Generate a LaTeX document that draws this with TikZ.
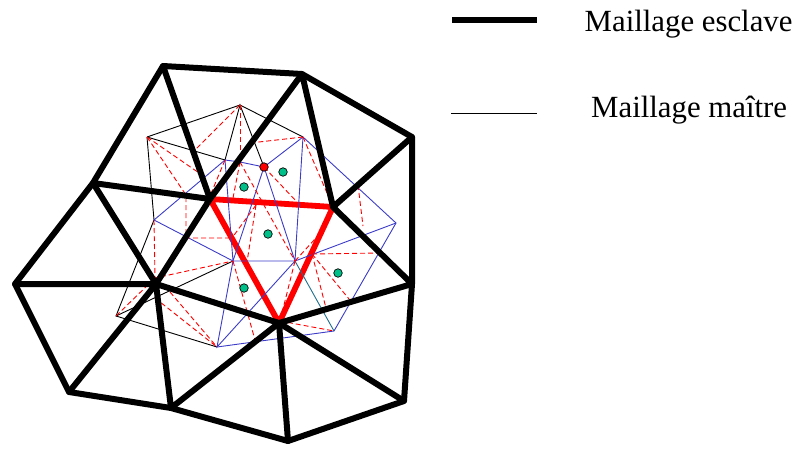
\documentclass[tikz,border=0pt]{standalone}
\usepackage{fontspec}
\setmainfont{Liberation Serif}
\definecolor{vertpt}{HTML}{00C08A}
\definecolor{bleumesh}{HTML}{3C3CC8}
\definecolor{tealmesh}{HTML}{1F6F8F}
\tikzset{
  x=1pt,y=-1pt,
  esclave/.style={line width=6pt,black,line cap=round,line join=round},
  zone/.style={line width=5.8pt,red,line join=miter},
  maitre/.style={line width=0.9pt,black},
  bleu/.style={line width=0.9pt,bleumesh},
  sarc/.style={line width=0.9pt,red,dash pattern=on 5pt off 3pt},
  pt/.style={circle,draw=black,line width=0.7pt,inner sep=0pt,minimum size=8.5pt},
  legende/.style={font=\fontsize{30.8}{32}\selectfont,anchor=base west,inner sep=0pt},
}
\begin{document}
\begin{tikzpicture}
\useasboundingbox (0,0) rectangle (797,450);
% Maillage esclave
\foreach \n/\x/\y in {A/163/66,B/302/74,C/412/137,D/333/207,E/210/199,F/93/183,G/15/284,H/156/284,I/69/392,J/171/408,K/279/323,L/412/284,M/404/401,N/288/441}
  {\coordinate (\n) at (\x,\y);}
% Maillage maitre
\foreach \n/\x/\y in {a/240/105,b/147/137,c/303/137,d/225/160,e/264/167,f/240/162,g/154/220,h/233/261,i/217/347,j/295/261,k/334/331,l/396/223,m/116/316}
  {\coordinate (\n) at (\x,\y);}
% Points d'arrivee des pointilles
\foreach \n/\x/\y in {p1/193/152,p2/202/175,p3/186/195,p4/186/238,p5/232/238,p6/155/278,p7/210/196,p8/233/198,p9/250/143,p10/297/202,p11/358/185,p12/363/226,p13/312/254,p14/380/253,p15/326/308,p16/349/299,p17/325/228,p18/256/205,p19/247/262,p20/255/340,p21/155/298,p22/170/292,p23/140/257,p24/280/321}
  {\coordinate (\n) at (\x,\y);}

\draw[zone] (E) -- (D) -- (K) -- cycle;

\draw[maitre] (b) -- (a) -- (c);
\draw[maitre] (b) -- (d) -- (a) -- (e);
\draw[maitre] (b) -- (g) -- (m) -- (i);
\draw[maitre] (m) -- (h);

\draw[bleu] (g) -- (d) -- (f) -- (e) -- (c) -- (l) -- (k) -- (i);
\draw[bleu] (d) -- (h) -- (e) -- (j) -- (c);
\draw[bleu] (g) -- (h) -- (j) -- (l);
\draw[bleu] (h) -- (i) -- (j);
\draw[line width=0.9pt,tealmesh] (j) -- (k);

\draw[sarc] (a) -- (f);
\draw[sarc] (a) -- (p1);
\draw[sarc] (b) -- (p2);
\draw[sarc] (b) -- (p3) -- (p4) -- (p5);
\draw[sarc] (g) -- (p6) -- (h);
\draw[sarc] (p23) -- (p6);
\draw[sarc] (m) -- (p6);
\draw[sarc] (p21) -- (i);
\draw[sarc] (p22) -- (i);
\draw[sarc] (d) -- (p7);
\draw[sarc] (f) -- (p8);
\draw[sarc] (f) -- (j);
\draw[sarc] (c) -- (p9);
\draw[sarc] (e) -- (p10);
\draw[sarc] (c) -- (D);
\draw[sarc] (p11) -- (p12);
\draw[sarc] (p13) -- (p14);
\draw[sarc] (p13) -- (p15);
\draw[sarc] (p13) -- (p16);
\draw[sarc] (j) -- (p24);
\draw[sarc] (j) -- (p17);
\draw[sarc] (p18) -- (p19);
\draw[sarc] (p18) -- (p5);
\draw[sarc] (h) -- (p20);
\draw[sarc] (p24) -- (k);

\draw[esclave] (F) -- (A) -- (B) -- (C) -- (L) -- (M) -- (N) -- (J) -- (I) -- (G) -- (F);
\draw[esclave] (A) -- (E) -- (B) -- (D) -- (C);
\draw[esclave] (F) -- (E) -- (H) -- (F);
\draw[esclave] (G) -- (H) -- (I);
\draw[esclave] (H) -- (J) -- (K) -- (H);
\draw[esclave] (K) -- (N);
\draw[esclave] (K) -- (M);
\draw[esclave] (K) -- (L) -- (D);

\node[pt,fill=red] (rouge) at (e) {};
\foreach \n/\x/\y in {v1/244/187,v2/283/172,v3/268/234,v4/244/288,v5/338/273}
  {\node[pt,fill=vertpt] (\n) at (\x,\y) {};}

\coordinate (l1a) at (452,20);
\coordinate (l1b) at (537,20);
\coordinate (l2a) at (451,113.5);
\coordinate (l2b) at (537,113.5);
\draw[line width=6pt] (l1a) -- (l1b);
\draw[line width=0.8pt] (l2a) -- (l2b);
\node[legende] (t1) at (584.5,31) {Maillage esclave};
\node[legende] (t2) at (591,117) {Maillage maître};
\end{tikzpicture}
\end{document}
